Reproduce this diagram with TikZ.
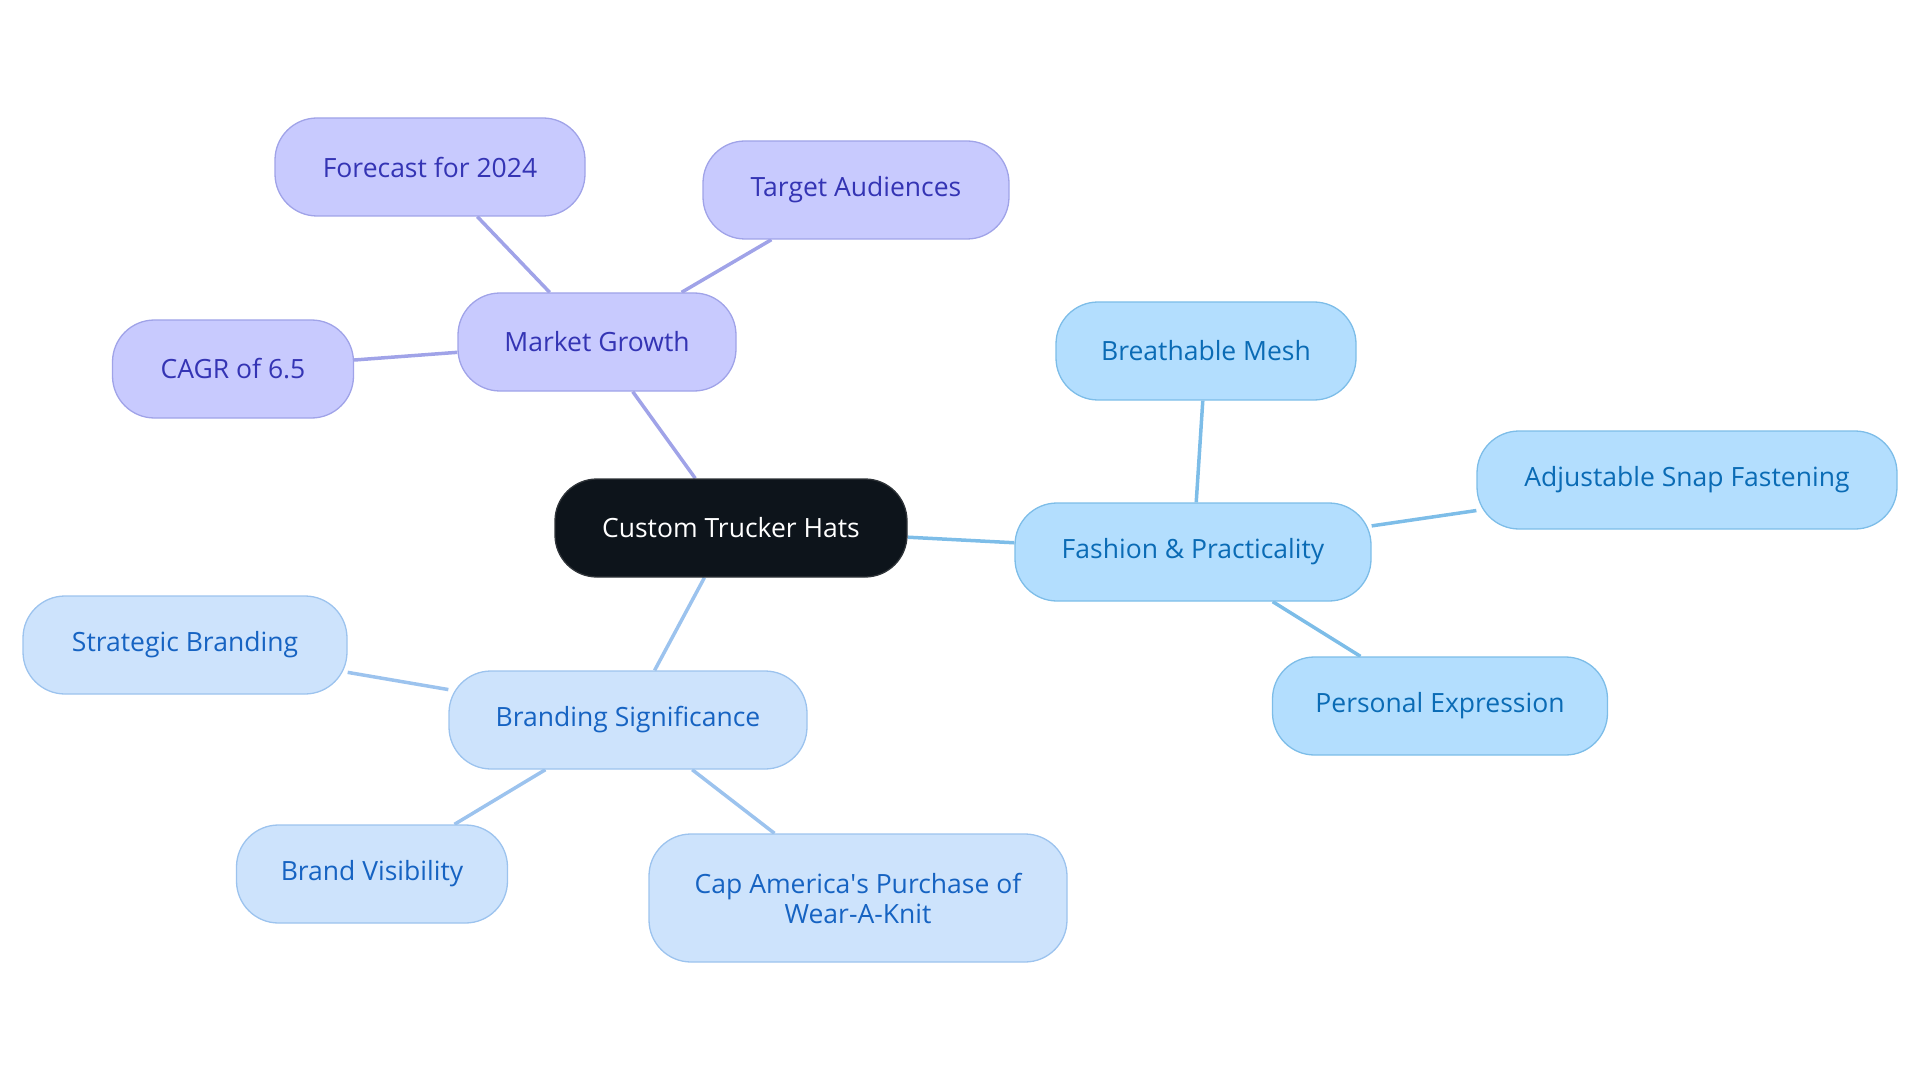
\documentclass[tikz,border=0pt]{standalone}
\usepackage{fontspec}
\setmainfont{Open Sans}
\newfontfamily\aposfont{Open Sans}
\usetikzlibrary{backgrounds}
\definecolor{pfill}{HTML}{C8CAFE}
\definecolor{pdraw}{HTML}{A0A3E8}
\definecolor{ptext}{HTML}{3434B4}
\definecolor{ffill}{HTML}{B3DEFE}
\definecolor{fdraw}{HTML}{7DBDE8}
\definecolor{ftext}{HTML}{0A6BB5}
\definecolor{bfill}{HTML}{CDE3FC}
\definecolor{bdraw}{HTML}{9CC3EE}
\definecolor{btext}{HTML}{1663C2}
\definecolor{cfill}{HTML}{0D141B}
\tikzset{
  box/.style={rectangle, rounded corners=42pt, line width=1.3pt, minimum height=98pt, font=\fontsize{26.5}{30}\selectfont, align=center, inner sep=0pt},
  pbox/.style={box, fill=pfill, draw=pdraw, text=ptext},
  fbox/.style={box, fill=ffill, draw=fdraw, text=ftext},
  bbox/.style={box, fill=bfill, draw=bdraw, text=btext},
  cbox/.style={box, fill=cfill, draw=cfill!70!gray, text=white},
  pline/.style={draw=pdraw, line width=3.5pt},
  fline/.style={draw=fdraw, line width=3.5pt},
  bline/.style={draw=bdraw, line width=3.5pt},
}
\begin{document}
\begin{tikzpicture}[x=1pt,y=-1pt]
\useasboundingbox (0,0) rectangle (1920,1083);
\node[cbox, minimum width=352pt] (c) at (731,528) {Custom Trucker Hats};
\node[pbox, minimum width=278pt] (mg) at (597,342) {Market Growth};
\node[pbox, minimum width=310pt] (fc) at (430,167) {Forecast for 2024};
\node[pbox, minimum width=306pt] (ta) at (856,190) {Target Audiences};
\node[pbox, minimum width=241pt] (cagr) at (233,369) {CAGR of 6.5};
\node[fbox, minimum width=356pt] (fp) at (1193,552) {Fashion \& Practicality};
\node[fbox, minimum width=300pt] (bm) at (1206,351) {Breathable Mesh};
\node[fbox, minimum width=420pt] (as) at (1687,480) {Adjustable Snap Fastening};
\node[fbox, minimum width=335pt] (pe) at (1440,706) {Personal Expression};
\node[bbox, minimum width=358pt] (bs) at (628,720) {Branding Significance};
\node[bbox, minimum width=324pt] (sb) at (185,645) {Strategic Branding};
\node[bbox, minimum width=271pt] (bv) at (372,874) {Brand Visibility};
\node[bbox, minimum width=418pt, minimum height=128pt] (ca) at (858,898) {Cap America{\aposfont'}s Purchase of\\Wear-A-Knit};
\begin{scope}[on background layer]
\draw[pline] (c) -- (mg);
\draw[pline] (mg) -- (fc);
\draw[pline] (mg) -- (ta);
\draw[pline] (mg) -- (cagr);
\draw[fline] (c) -- (fp);
\draw[fline] (fp) -- (bm);
\draw[fline] (fp) -- (as);
\draw[fline] (fp) -- (pe);
\draw[bline] (c) -- (bs);
\draw[bline] (bs) -- (sb);
\draw[bline] (bs) -- (bv);
\draw[bline] (bs) -- (ca);
\end{scope}
\end{tikzpicture}
\end{document}
